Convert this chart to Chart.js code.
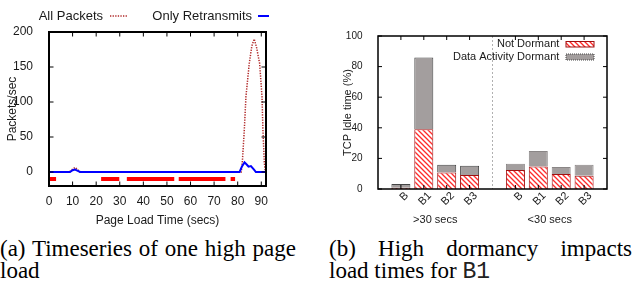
<!DOCTYPE html>
<html><head><meta charset="utf-8">
<script src="https://cdn.jsdelivr.net/npm/chart.js@4/dist/chart.umd.min.js"></script>
<style>
html,body{margin:0;padding:0;background:#fff;width:636px;height:283px;overflow:hidden;position:relative}
canvas{position:absolute;top:0}
#ca{left:0}#cb{left:318px}
.cap{position:absolute;font-family:'Liberation Serif','Times New Roman',serif;font-size:23px;line-height:23px;color:#000}
.j{text-align:justify;text-align-last:justify}
.tt{font-family:'Liberation Mono','Courier New',Courier,monospace;font-weight:normal;color:#222}
</style></head><body>
<canvas id="ca" width="318" height="232"></canvas>
<canvas id="cb" width="318" height="232"></canvas>
<div class="cap j" style="left:0;top:237px;width:296px">(a) Timeseries of one high page</div>
<div class="cap" style="left:0;top:259px">load</div>
<div class="cap j" style="left:329px;top:237px;width:303px">(b) High dormancy impacts</div>
<div class="cap" style="left:329px;top:259px">load times for <span class="tt">B1</span></div>
<script>
// ---------- (a) time series ----------
const allPktT = [0, 8.5, 10, 11, 12, 13, 81.5, 82, 82.8, 83.5, 84.9, 86, 87, 88, 89.3, 90.3, 90.7, 91.3, 91.7, 92];
const allPktV = [0, 0, 4, 6.5, 4, 0, 0, 16, 60, 108, 155, 180, 190, 178, 155, 108, 60, 13, 0, 0];
const retransT = [0, 8.9, 10, 11, 12, 13.2, 80.8, 81.8, 82.9, 84, 84.6, 85.6, 87, 87.7, 92];
const retransV = [0, 0, 2.5, 3.5, 2, 0, 0, 8, 13.8, 10, 7.6, 8.5, 3, 0, 0];
const dormantStart = [0, 22.1, 33.0, 55.0, 77.0];
const dormantEnd = [3.0, 29.8, 53.1, 74.8, 78.9];
const dormantLevel = -10;
const xTicksA = [0, 10, 20, 30, 40, 50, 60, 70, 80, 90];
const yTicksA = [0, 50, 100, 150, 200];
const legendA = ['All Packets', 'Only Retransmits'];

// ---------- (b) stacked bars ----------
const barPositions = [0, 1, 2, 3, 5, 6, 7, 8];
const barLabels = ['B', 'B1', 'B2', 'B3', 'B', 'B1', 'B2', 'B3'];
const notDormant = [0.8, 39, 10.8, 9.1, 12.4, 14.7, 9.8, 8.7];
const dataActivityDormant = [2.4, 47, 5.0, 6.1, 4.1, 10.2, 4.5, 7.1];
const groupLabels = ['>30 secs', '<30 secs'];
const groupCenters = [1.5, 6.5];
const separatorAt = 4;
const yTicksB = [0, 20, 40, 60, 80, 100];
const legendB = ['Not Dormant', 'Data Activity Dormant'];

const FONT = "'Liberation Sans', Arial, sans-serif";
Chart.defaults.font.family = FONT;
Chart.defaults.color = '#1a1a1a';

function pts(t, v) { return t.map((x, i) => ({x: x, y: v[i]})); }
const segData = [];
dormantStart.forEach((s, i) => {
  segData.push({x: s, y: dormantLevel}, {x: dormantEnd[i], y: dormantLevel}, {x: dormantEnd[i], y: null});
});

function frameTicks(len, lw) {
  return {
    id: 'frameTicks',
    afterDraw(chart) {
      const {ctx, chartArea: a, scales: {x, y}} = chart;
      ctx.save();
      ctx.strokeStyle = '#000';
      ctx.lineWidth = 1;
      ctx.beginPath();
      x.ticks.forEach(t => {
        const p = x.getPixelForValue(t.value);
        ctx.moveTo(p, a.bottom); ctx.lineTo(p, a.bottom - len);
        ctx.moveTo(p, a.top); ctx.lineTo(p, a.top + len);
      });
      y.ticks.forEach(t => {
        const p = y.getPixelForValue(t.value);
        ctx.moveTo(a.left, p); ctx.lineTo(a.left + len, p);
        ctx.moveTo(a.right, p); ctx.lineTo(a.right - len, p);
      });
      ctx.stroke();
      ctx.lineWidth = lw;
      ctx.strokeRect(a.left, a.top, a.right - a.left, a.bottom - a.top);
      ctx.restore();
    }
  };
}

const legendPluginA = {
  id: 'legA',
  afterDraw(chart) {
    const ctx = chart.ctx;
    ctx.save();
    ctx.font = '13px ' + FONT;
    ctx.fillStyle = '#1a1a1a';
    ctx.textAlign = 'right';
    ctx.textBaseline = 'middle';
    ctx.fillText(legendA[0], 103, 16.5);
    ctx.fillText(legendA[1], 252, 16.5);
    ctx.strokeStyle = '#b02828'; ctx.lineWidth = 1.5; ctx.setLineDash([1.3, 1.3]);
    ctx.beginPath(); ctx.moveTo(110, 16); ctx.lineTo(128, 16); ctx.stroke();
    ctx.setLineDash([]);
    ctx.strokeStyle = '#0000ff'; ctx.lineWidth = 2;
    ctx.beginPath(); ctx.moveTo(258, 16); ctx.lineTo(269, 16); ctx.stroke();
    ctx.restore();
  }
};

new Chart(document.getElementById('ca'), {
  type: 'line',
  data: {
    datasets: [
      {label: legendA[1], data: pts(retransT, retransV), borderColor: '#0000ff', borderWidth: 2, order: 0},
      {label: legendA[0], data: pts(allPktT, allPktV), borderColor: '#b02828', borderWidth: 1.5, borderDash: [1.3, 1.3], order: 1},
      {label: 'dormant', data: segData, borderColor: '#ff0000', borderWidth: 4, borderCapStyle: 'butt', spanGaps: false, order: 2}
    ]
  },
  options: {
    responsive: false, animation: false, devicePixelRatio: 1,
    layout: {padding: {top: 32, right: 52, left: 0, bottom: 0}},
    plugins: {legend: {display: false}, tooltip: {enabled: false}},
    elements: {point: {radius: 0}, line: {tension: 0}},
    scales: {
      x: {
        type: 'linear', min: 0, max: 92,
        afterBuildTicks: s => { s.ticks = xTicksA.map(v => ({value: v})); },
        afterFit: s => { s.height = 46; },
        grid: {display: false}, border: {display: false},
        ticks: {padding: 0, font: {size: 12}, maxRotation: 0, autoSkip: false},
        title: {display: true, text: 'Page Load Time (secs)', font: {size: 12}, padding: {top: 0, bottom: 4.5}}
      },
      y: {
        type: 'linear', min: -20, max: 200,
        afterBuildTicks: s => { s.ticks = yTicksA.map(v => ({value: v})); },
        afterFit: s => { s.width = 49; },
        grid: {display: false}, border: {display: false},
        ticks: {padding: 8, font: {size: 12}, autoSkip: false},
        title: {display: true, text: 'Packets/sec', font: {size: 12}, padding: {top: 5.3, bottom: 0}}
      }
    }
  },
  plugins: [frameTicks(4.5, 2), legendPluginA]
});

// ---------- chart (b) ----------
function hatch() {
  const c = document.createElement('canvas'); c.width = 5; c.height = 5;
  const g = c.getContext('2d');
  g.fillStyle = '#fff'; g.fillRect(0, 0, 5, 5);
  g.strokeStyle = '#ff2a2a'; g.lineWidth = 1.3;
  g.beginPath();
  g.moveTo(-1, -1); g.lineTo(6, 6);
  g.moveTo(-1, 4); g.lineTo(1, 6);
  g.moveTo(4, -1); g.lineTo(6, 1);
  g.stroke();
  return g.createPattern(c, 'repeat');
}
const hatchPat = hatch();
const grayFill = '#a39e9e';

const decoB = {
  id: 'decoB',
  beforeDatasetsDraw(chart) {
    const {ctx, chartArea: a, scales: {x}} = chart;
    const p = x.getPixelForValue(separatorAt);
    ctx.save();
    ctx.strokeStyle = '#b0b0b0'; ctx.lineWidth = 1; ctx.setLineDash([2, 2]);
    ctx.beginPath(); ctx.moveTo(p, a.top); ctx.lineTo(p, a.bottom); ctx.stroke();
    ctx.restore();
  },
  afterDraw(chart) {
    const {ctx, scales: {x}} = chart;
    ctx.save();
    ctx.font = '11px ' + FONT;
    ctx.fillStyle = '#1a1a1a';
    // rotated category labels
    ctx.textAlign = 'right';
    ctx.textBaseline = 'middle';
    barPositions.forEach((p, i) => {
      ctx.save();
      ctx.translate(x.getPixelForValue(p) + 6, 194);
      ctx.rotate(-Math.PI / 4);
      ctx.fillText(barLabels[i], 0, 0);
      ctx.restore();
    });
    ctx.textAlign = 'center';
    groupLabels.forEach((g, i) => ctx.fillText(g, x.getPixelForValue(groupCenters[i]), 219.5));
    ctx.textAlign = 'right';
    ctx.fillText(legendB[0], 241.3, 44.3);
    ctx.fillText(legendB[1], 241.3, 57);
    // legend samples
    ctx.fillStyle = hatchPat;
    ctx.fillRect(248, 41.5, 28, 5.5);
    ctx.strokeStyle = '#a01010'; ctx.lineWidth = 1;
    ctx.strokeRect(248, 41.5, 28, 5.5);
    ctx.fillStyle = grayFill;
    ctx.fillRect(248, 54, 28, 6);
    ctx.strokeStyle = '#444'; ctx.setLineDash([1, 1]);
    ctx.strokeRect(248, 54, 28, 6);
    ctx.restore();
  }
};

new Chart(document.getElementById('cb'), {
  type: 'bar',
  data: {
    datasets: [
      {label: legendB[0], data: pts(barPositions, notDormant), backgroundColor: hatchPat,
       borderColor: '#a01010', borderWidth: 1, barPercentage: 0.83, categoryPercentage: 1},
      {label: legendB[1], data: pts(barPositions, dataActivityDormant), backgroundColor: grayFill,
       borderColor: barPositions.map(p => p < separatorAt ? '#444' : '#8a8686'), borderWidth: 1,
       barPercentage: 0.83, categoryPercentage: 1}
    ]
  },
  options: {
    responsive: false, animation: false, devicePixelRatio: 1,
    layout: {padding: {top: 36, right: 29, left: 0, bottom: 0}},
    plugins: {legend: {display: false}, tooltip: {enabled: false}},
    scales: {
      x: {
        type: 'linear', min: -1, max: 9, stacked: true, offset: false,
        afterBuildTicks: s => { s.ticks = barPositions.map(v => ({value: v})); },
        afterFit: s => { s.height = 43; },
        grid: {display: false}, border: {display: false},
        ticks: {display: false, autoSkip: false}
      },
      y: {
        type: 'linear', min: 0, max: 100, stacked: true,
        afterBuildTicks: s => { s.ticks = yTicksB.map(v => ({value: v})); },
        afterFit: s => { s.width = 60; },
        grid: {display: false}, border: {display: false},
        ticks: {padding: 7.5, font: {size: 10}, autoSkip: false},
        title: {display: true, text: 'TCP Idle time (%)', font: {size: 11}, padding: {top: 23, bottom: 0}}
      }
    }
  },
  plugins: [frameTicks(4, 1.5), decoB]
});
</script>
</body></html>
